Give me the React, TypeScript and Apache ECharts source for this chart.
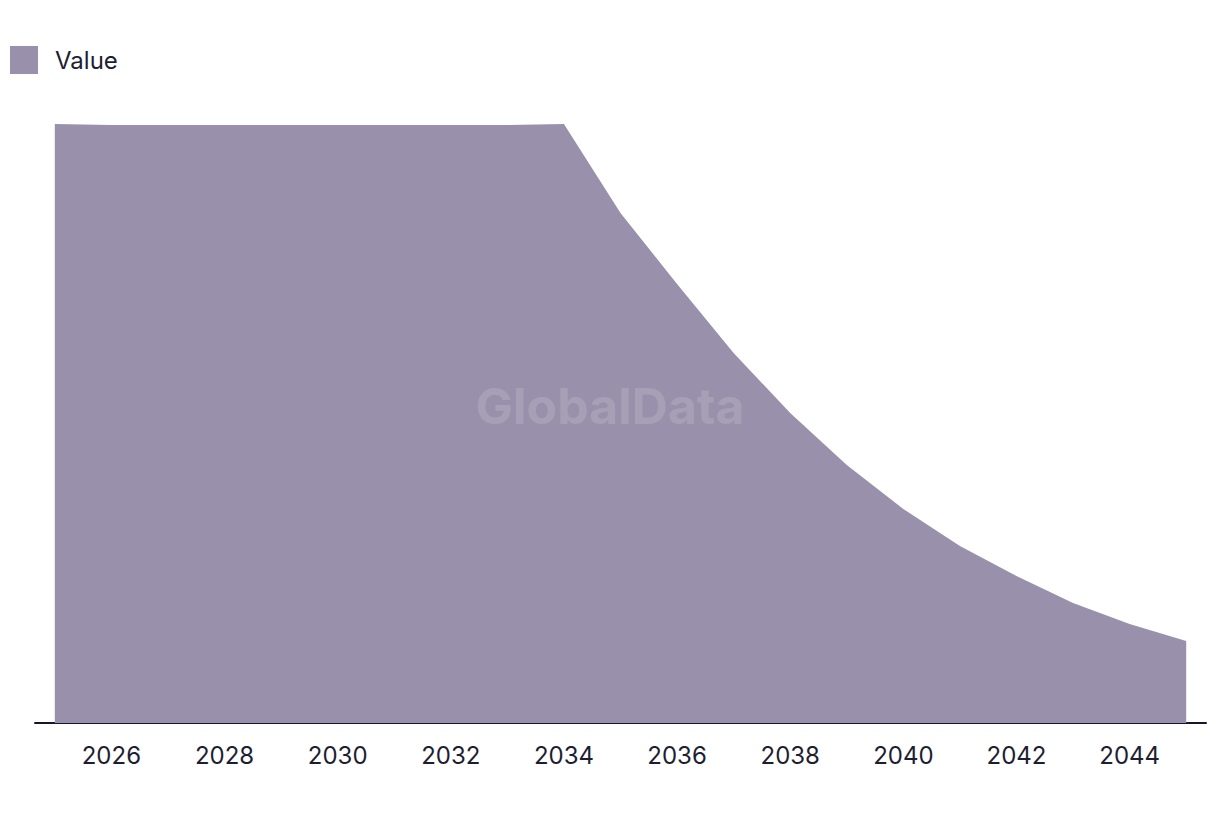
import React, { useEffect, useRef } from "react";
import * as echarts from "echarts";

const years = [2025, 2026, 2027, 2028, 2029, 2030, 2031, 2032, 2033, 2034, 2035, 2036, 2037, 2038, 2039, 2040, 2041, 2042, 2043, 2044, 2045];
const values = [100, 99.83, 99.83, 99.83, 99.83, 99.83, 99.83, 99.83, 99.83, 100, 85.14, 73.29, 61.77, 51.75, 43.07, 35.73, 29.55, 24.54, 20.03, 16.53, 13.69];
const tickYears = [2026, 2028, 2030, 2032, 2034, 2036, 2038, 2040, 2042, 2044];
const seriesName = "Value";

export default function App() {
  const ref = useRef<HTMLDivElement>(null);
  useEffect(() => {
    if (!ref.current) return;
    const chart = echarts.init(ref.current, undefined, { renderer: "svg" });
    chart.setOption({
      animation: false,
      grid: { left: 35, right: 14, top: 124, bottom: 91, containLabel: false },
      legend: {
        show: true,
        left: 5,
        top: 41,
        itemWidth: 28,
        itemHeight: 28,
        itemGap: 10,
        icon: "rect",
        textStyle: { fontSize: 24, color: "#1e1e32", fontFamily: "Inter", padding: [0, 0, 4, 12] },
        data: [seriesName],
      },
      xAxis: {
        type: "value",
        min: 2024.65,
        max: 2045.35,
        splitLine: { show: false },
        axisTick: { show: false },
        axisLine: { show: true, onZero: false, lineStyle: { color: "#16162a", width: 2 } },
        axisLabel: {
          customValues: tickYears,
          formatter: (v: number) => String(v),
          fontSize: 24,
          color: "#1e1e32",
          fontFamily: "Inter",
          margin: 20,
        },
      },
      yAxis: {
        type: "value",
        min: 0,
        max: 100,
        show: false,
        splitLine: { show: false },
      },
      graphic: [
        {
          type: "text",
          left: "center",
          top: 381,
          style: {
            text: "GlobalData",
            fontSize: 50,
            fontWeight: "bold",
            fontFamily: "Inter",
            fill: "rgba(255,255,255,0.13)",
          },
          z: 100,
        },
      ],
      series: [
        {
          name: seriesName,
          type: "line",
          data: years.map((y, i) => [y, values[i]]),
          showSymbol: false,
          symbol: "none",
          lineStyle: { width: 0 },
          itemStyle: { color: "#9991ab" },
          areaStyle: { color: "#9991ab", opacity: 1 },
        },
      ],
    });
    return () => chart.dispose();
  }, []);
  return <div ref={ref} style={{ position: "absolute", left: 0, top: 0, width: 1220, height: 814 }} />;
}
